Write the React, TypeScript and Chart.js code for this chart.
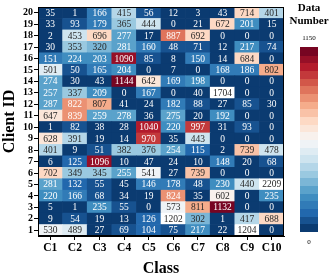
import React, { useEffect, useRef } from "react";
import { Chart, registerables } from "chart.js";

Chart.register(...registerables);

const classes = ["C1", "C2", "C3", "C4", "C5", "C6", "C7", "C8", "C9", "C10"];
const clients = [1, 2, 3, 4, 5, 6, 7, 8, 9, 10, 11, 12, 13, 14, 15, 16, 17, 18, 19, 20];

// counts[client-1][class]
const client1 = [530, 489, 27, 69, 104, 75, 217, 22, 1204, 0];
const client2 = [9, 54, 19, 13, 126, 1202, 302, 1, 417, 688];
const client3 = [5, 1, 235, 55, 0, 573, 811, 1132, 0, 0];
const client4 = [220, 166, 68, 34, 19, 824, 35, 602, 0, 235];
const client5 = [281, 132, 55, 45, 146, 178, 48, 230, 440, 2209];
const client6 = [702, 349, 345, 255, 541, 27, 739, 0, 0, 0];
const client7 = [6, 125, 1096, 10, 47, 24, 10, 148, 20, 68];
const client8 = [401, 9, 51, 382, 376, 254, 115, 2, 739, 478];
const client9 = [628, 391, 19, 14, 970, 35, 443, 0, 0, 0];
const client10 = [1, 82, 38, 28, 1040, 220, 997, 31, 93, 0];
const client11 = [647, 839, 259, 278, 36, 275, 20, 192, 0, 0];
const client12 = [287, 822, 807, 41, 24, 182, 88, 27, 85, 30];
const client13 = [257, 337, 209, 0, 167, 0, 40, 1704, 0, 0];
const client14 = [274, 30, 43, 1144, 642, 169, 198, 0, 0, 0];
const client15 = [501, 50, 165, 204, 0, 7, 0, 168, 186, 802];
const client16 = [151, 224, 203, 1090, 85, 8, 150, 14, 684, 0];
const client17 = [30, 353, 320, 281, 160, 48, 71, 12, 217, 74];
const client18 = [2, 453, 696, 277, 17, 887, 692, 0, 0, 0];
const client19 = [33, 93, 179, 365, 444, 0, 21, 672, 201, 15];
const client20 = [35, 1, 166, 415, 56, 12, 3, 43, 714, 401];

const counts = [
  client1, client2, client3, client4, client5, client6, client7, client8, client9, client10,
  client11, client12, client13, client14, client15, client16, client17, client18, client19, client20,
];

const vmin = 0;
const vmax = 1150;
const colorbarLabels = ["1150", "0"];
const nBands = 24;

// RdBu_r anchor colours
const RDBU_R = [
  [5, 48, 97],
  [33, 102, 172],
  [67, 147, 195],
  [146, 197, 222],
  [209, 229, 240],
  [247, 247, 247],
  [253, 219, 199],
  [244, 165, 130],
  [214, 96, 77],
  [178, 24, 43],
  [103, 0, 31],
];

function cmap(t: number): number[] {
  const x = Math.max(0, Math.min(1, t)) * (RDBU_R.length - 1);
  const i = Math.min(RDBU_R.length - 2, Math.floor(x));
  const f = x - i;
  const a = RDBU_R[i];
  const b = RDBU_R[i + 1];
  return [0, 1, 2].map((k) => Math.round(a[k] + (b[k] - a[k]) * f));
}

function rgbFor(v: number): number[] {
  if (v > vmax) return [255, 255, 255];
  const band = Math.min(nBands - 1, Math.floor(((v - vmin) / (vmax - vmin)) * nBands));
  return cmap((band + 0.5) / nBands);
}

function css(c: number[]) {
  return `rgb(${c[0]},${c[1]},${c[2]})`;
}

function lum(c: number[]) {
  const lin = c.map((x) => {
    const s = x / 255;
    return s <= 0.03928 ? s / 12.92 : Math.pow((s + 0.055) / 1.055, 2.4);
  });
  return 0.2126 * lin[0] + 0.7152 * lin[1] + 0.0722 * lin[2];
}

const serif = "'Liberation Serif', 'Times New Roman', serif";

const heatPlugin = {
  id: "heatExtras",
  afterDatasetsDraw(chart: any) {
    const ctx = chart.ctx;
    ctx.save();
    ctx.font = `9.5px ${serif}`;
    ctx.textAlign = "center";
    ctx.textBaseline = "middle";
    chart.data.datasets.forEach((ds: any, di: number) => {
      const meta = chart.getDatasetMeta(di);
      meta.data.forEach((el: any, ci: number) => {
        const v = counts[di][ci];
        const c = rgbFor(v);
        ctx.fillStyle = lum(c) > 0.408 ? "#262626" : "#ffffff";
        ctx.fillText(String(v), el.x, (el.y + el.base) / 2 + 0.5);
      });
    });
    const a = chart.chartArea;
    ctx.strokeStyle = "#000";
    ctx.lineWidth = 1;
    ctx.strokeRect(a.left + 0.5, a.top + 0.5, a.right - a.left - 1, a.bottom - a.top - 1);
    ctx.restore();
  },
  afterDraw(chart: any) {
    const ctx = chart.ctx;
    const a = chart.chartArea;
    const x0 = a.right + 16;
    const w = 18;
    const top = 47;
    const bottom = 231;
    ctx.save();
    const h = (bottom - top) / nBands;
    for (let i = 0; i < nBands; i++) {
      ctx.fillStyle = css(cmap((i + 0.5) / nBands));
      const y1 = bottom - (i + 1) * h;
      ctx.fillRect(x0, Math.floor(y1), w, Math.ceil(h) + 1);
    }
    ctx.fillStyle = "#000";
    ctx.textAlign = "center";
    ctx.textBaseline = "middle";
    ctx.font = `bold 11px ${serif}`;
    ctx.fillText("Data", x0 + w / 2, 8);
    ctx.fillText("Number", x0 + w / 2, 21);
    ctx.font = `7px ${serif}`;
    ctx.fillText(colorbarLabels[0], x0 + w / 2, 38);
    ctx.fillText(colorbarLabels[1], x0 + w / 2, 242);
    ctx.restore();
  },
};

export default function App() {
  const ref = useRef<HTMLCanvasElement | null>(null);
  useEffect(() => {
    if (!ref.current) return;
    const datasets = clients.map((id, i) => ({
      label: `Client ${id}`,
      data: classes.map(() => [id - 0.5, id + 0.5]),
      backgroundColor: counts[i].map((v) => css(rgbFor(v))),
      borderWidth: 0,
      grouped: false,
      barPercentage: 1,
      categoryPercentage: 1,
    }));
    const chart = new Chart(ref.current, {
      type: "bar",
      data: { labels: classes, datasets },
      options: {
        animation: false,
        responsive: false,
        layout: { padding: { top: 1, right: 48, left: 0, bottom: 0 } },
        plugins: { legend: { display: false }, tooltip: { enabled: false } },
        scales: {
          x: {
            type: "category",
            grid: { offset: false, drawOnChartArea: false, drawTicks: true, tickLength: 4, color: "#000" },
            border: { display: true, color: "#000" },
            ticks: { color: "#000", font: { family: serif, size: 11.5, weight: "bold" }, padding: 1, maxRotation: 0 },
            title: { display: true, text: "Class", color: "#000", font: { family: serif, size: 16, weight: "bold" }, padding: { top: 0, bottom: 0 } },
            afterFit: (s: any) => { s.height = 42; },
          },
          y: {
            type: "linear",
            min: 0.5,
            max: 20.5,
            afterBuildTicks: (s: any) => { s.ticks = clients.map((v) => ({ value: v })); },
            grid: { drawOnChartArea: false, drawTicks: true, tickLength: 4, color: "#000" },
            border: { display: true, color: "#000" },
            ticks: { color: "#000", font: { family: serif, size: 10, weight: "bold" }, padding: 1, autoSkip: false },
            title: { display: true, text: "Client ID", color: "#000", font: { family: serif, size: 16, weight: "bold" }, padding: { top: 0, bottom: 0 } },
            afterFit: (s: any) => { s.width = 38; },
          },
        },
      },
      plugins: [heatPlugin],
    } as any);
    return () => chart.destroy();
  }, []);
  return (
    <div style={{ position: "fixed", left: 0, top: 0, width: 332, height: 278, background: "#fff" }}>
      <canvas ref={ref} width={332} height={278} style={{ display: "block" }} />
    </div>
  );
}
